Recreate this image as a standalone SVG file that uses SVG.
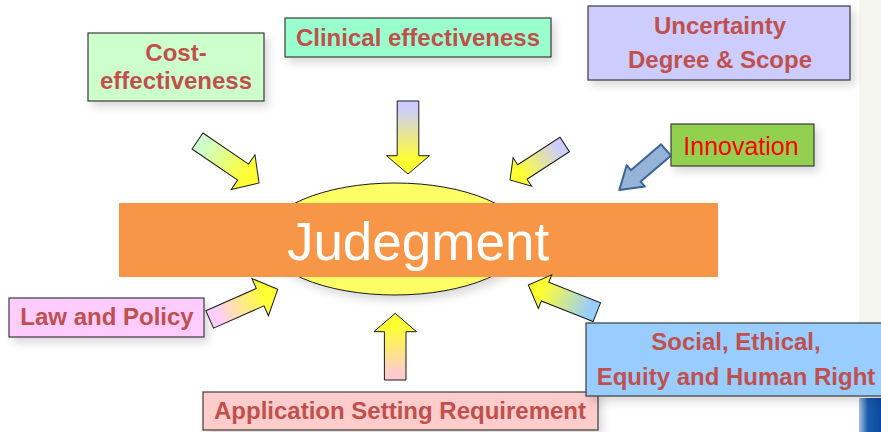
<svg xmlns="http://www.w3.org/2000/svg" width="881" height="432" viewBox="0 0 881 432">
<defs>
<filter id="sh" x="-20%" y="-30%" width="150%" height="180%">
<feDropShadow dx="4" dy="5" stdDeviation="4" flood-color="#000" flood-opacity="0.15"/>
</filter>
<linearGradient id="gGreen" x1="0" y1="0" x2="1" y2="0"><stop offset="0.1" stop-color="#CCFFCC"/><stop offset="0.8" stop-color="#FFFF33"/></linearGradient>
<linearGradient id="gLav" x1="0" y1="0" x2="1" y2="0"><stop offset="0.1" stop-color="#CCCCFF"/><stop offset="0.8" stop-color="#FFFF33"/></linearGradient>
<linearGradient id="gPink" x1="0" y1="0" x2="1" y2="0"><stop offset="0.1" stop-color="#FFCCFF"/><stop offset="0.8" stop-color="#FFFF33"/></linearGradient>
<linearGradient id="gRose" x1="0" y1="0" x2="1" y2="0"><stop offset="0.1" stop-color="#FFCCCC"/><stop offset="0.8" stop-color="#FFFF33"/></linearGradient>
<linearGradient id="gBlue" x1="0" y1="0" x2="1" y2="0"><stop offset="0.1" stop-color="#99CCFF"/><stop offset="0.8" stop-color="#FFFF33"/></linearGradient>
<linearGradient id="gCorner" x1="0" y1="0" x2="1" y2="0"><stop offset="0" stop-color="#A8C4E4"/><stop offset="0.4" stop-color="#1A5CB0"/><stop offset="1" stop-color="#0A4A9C"/></linearGradient>
<style>
.box{stroke:#3a3a3a;stroke-width:1.2;filter:url(#sh)}
.lbl{font-family:"Liberation Sans",Arial,sans-serif;font-weight:bold;font-size:24px;fill:#C0504D;text-anchor:middle}
.arr{stroke:#1a1a1a;stroke-width:1}
</style>
</defs>
<rect x="859" y="0" width="22" height="400" fill="#F6F6F1"/>
<rect x="859" y="398" width="22" height="34" fill="url(#gCorner)"/>

<g id="judgement">
<ellipse cx="395" cy="239" rx="130" ry="56" fill="#FFFF66" stroke="#1a1a1a" stroke-width="1" filter="url(#sh)"/>
<rect x="119" y="203" width="599" height="74" fill="#F79646"/>
<text x="418" y="260" font-family="'Liberation Sans',Arial,sans-serif" font-size="53" fill="#FFFFFF" text-anchor="middle">Judegment</text>
</g>

<g id="cost">
<rect class="box" x="88" y="33" width="176" height="68" fill="#CCFFCC"/>
<text class="lbl" x="176" y="61">Cost-</text>
<text class="lbl" x="176" y="89">effectiveness</text>
</g>
<g id="clinical">
<rect class="box" x="285" y="18" width="266" height="39" fill="#99FFCC"/>
<text class="lbl" x="418" y="46">Clinical effectiveness</text>
</g>
<g id="uncertainty">
<rect class="box" x="588" y="6" width="262" height="74" fill="#CCCCFF"/>
<text class="lbl" x="720" y="34">Uncertainty</text>
<text class="lbl" x="720" y="68">Degree &amp; Scope</text>
</g>
<g id="innovation">
<rect class="box" x="671" y="124" width="143" height="42" fill="#92D050"/>
<text x="741" y="155" font-family="'Liberation Sans',Arial,sans-serif" font-size="25" fill="#FF0000" text-anchor="middle">Innovation</text>
</g>
<g id="law">
<rect class="box" x="9" y="298" width="195" height="39" fill="#FFCCFF"/>
<text class="lbl" x="107" y="325">Law and Policy</text>
</g>
<g id="application">
<rect class="box" x="203" y="392" width="395" height="38" fill="#FFCCCC"/>
<text class="lbl" x="400" y="419">Application Setting Requirement</text>
</g>
<g id="social">
<rect class="box" x="586" y="323" width="300" height="73" fill="#99CCFF"/>
<text class="lbl" x="736" y="350">Social, Ethical,</text>
<text class="lbl" x="736" y="385">Equity and Human Right</text>
</g>

<g id="connectors">
<polygon class="arr" fill="url(#gGreen)" transform="translate(197.5,141) rotate(34.3)" points="0,-9.7 55.2,-9.7 55.2,-21 74.5,0 55.2,21 55.2,9.7 0,9.7"/>
<polygon class="arr" fill="url(#gLav)" transform="translate(408,101) rotate(90)" points="0,-10.8 54.7,-10.8 54.7,-21.5 73,0 54.7,21.5 54.7,10.8 0,10.8"/>
<polygon class="arr" fill="url(#gLav)" transform="translate(564.7,144.5) rotate(147)" points="0,-8.6 50.5,-8.6 50.5,-17 65.2,0 50.5,17 50.5,8.6 0,8.6"/>
<polygon fill="#95B3D7" stroke="#3A6496" stroke-width="2" stroke-linejoin="round" transform="translate(666,150) rotate(139.4)" points="0,-7.5 39.8,-7.5 39.8,-14 61.5,0 39.8,14 39.8,7.5 0,7.5"/>
<polygon class="arr" fill="url(#gPink)" transform="translate(209.7,319.5) rotate(-23.9)" points="0,-9.5 55.2,-9.5 55.2,-20.4 74.4,0 55.2,20.4 55.2,9.5 0,9.5"/>
<polygon class="arr" fill="url(#gRose)" transform="translate(395.2,380) rotate(-90)" points="0,-10.8 48.3,-10.8 48.3,-21.3 66.7,0 48.3,21.3 48.3,10.8 0,10.8"/>
<polygon class="arr" fill="url(#gBlue)" transform="translate(596.8,312.2) rotate(-158.3)" points="0,-10.1 55.7,-10.1 55.7,-18 73.7,0 55.7,18 55.7,10.1 0,10.1"/>
</g>
</svg>
